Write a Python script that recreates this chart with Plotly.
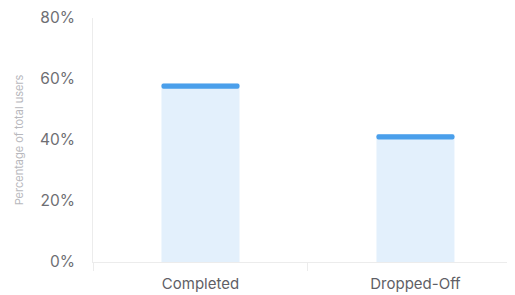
import plotly.graph_objects as go

categories = ["Completed", "Dropped-Off"]
values = [58.5, 41.9]
cap_size = 1.7
y_ticks = [0, 20, 40, 60, 80]
y_tick_labels = ["0%", "20%", "40%", "60%", "80%"]

fig = go.Figure()
fig.add_trace(go.Bar(
    x=categories, y=values,
    marker=dict(color="#E3F0FC", line=dict(width=0)),
    width=0.363, hoverinfo="skip", showlegend=False,
))
fig.add_trace(go.Bar(
    x=categories, y=[cap_size] * len(values),
    base=[v - cap_size for v in values],
    marker=dict(color="#4A9FEB", line=dict(width=0), cornerradius=3),
    width=0.363, hoverinfo="skip", showlegend=False,
))

fig.update_layout(
    width=507, height=287,
    margin=dict(l=85, r=0, t=10, b=33, autoexpand=False),
    paper_bgcolor="white", plot_bgcolor="white",
    barmode="overlay",
    font=dict(family="Inter, Roboto, sans-serif", color="#6e6e73"),
    xaxis=dict(
        range=[-0.5, 1.463], automargin=False,
        showline=True, linecolor="#ececec", linewidth=1,
        ticks="outside", tickson="boundaries", ticklen=8, tickcolor="#ececec",
        showgrid=False, zeroline=False, ticklabelstandoff=8,
        tickfont=dict(size=15, color="#5f5f66"),
    ),
    yaxis=dict(
        range=[0, 80], tickvals=y_ticks, ticktext=y_tick_labels, automargin=False,
        showline=True, linecolor="#ececec", linewidth=1,
        showgrid=False, zeroline=False,
        ticks="", ticklabelstandoff=14,
        tickfont=dict(size=15.5, color="#6e6e73"),
        title=dict(text="Percentage of total users", standoff=14,
                   font=dict(size=11, color="#b8b8bd")),
    ),
)

fig.write_html("out.html")
